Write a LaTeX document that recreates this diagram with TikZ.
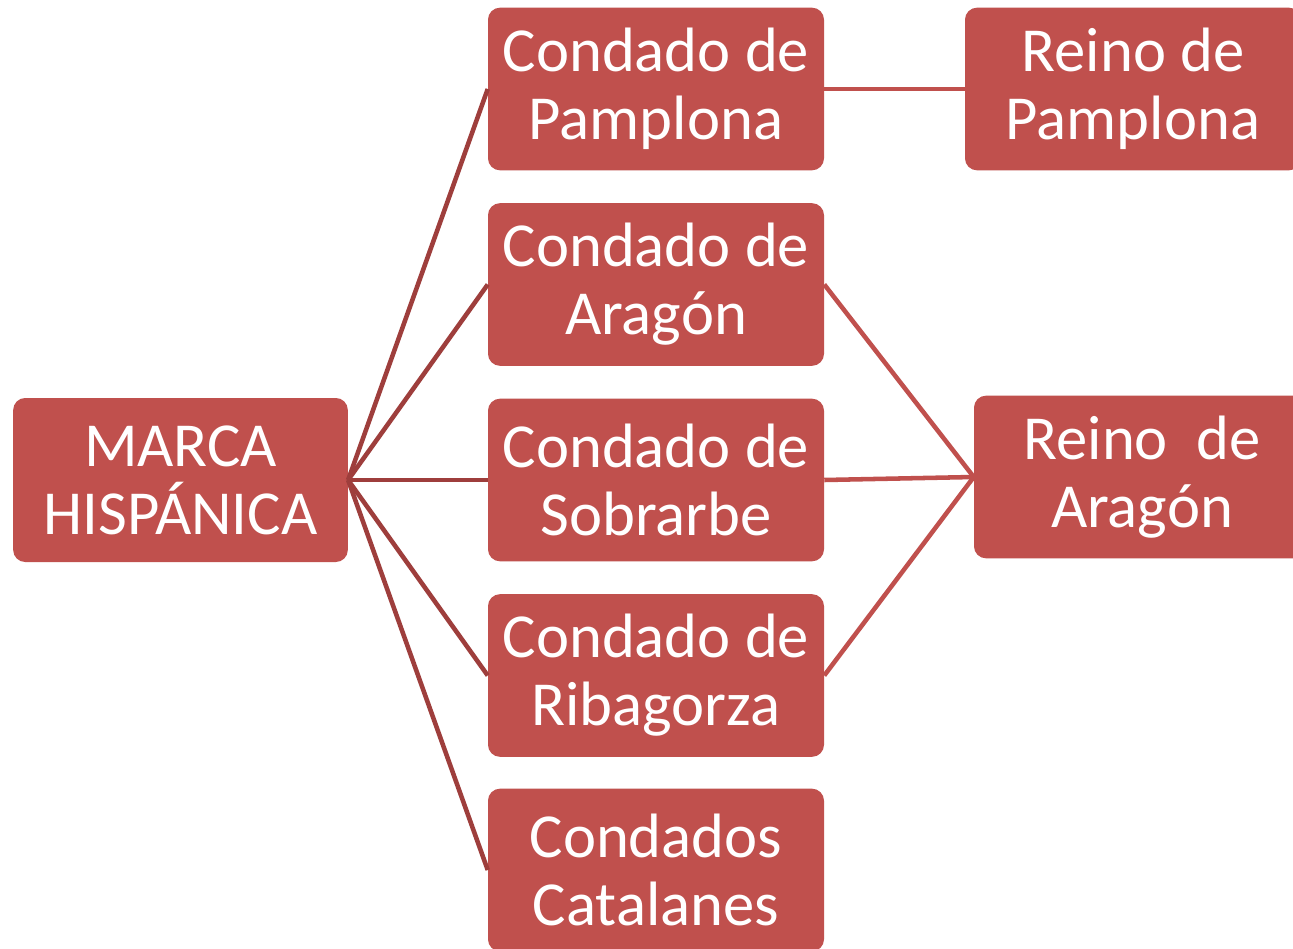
\documentclass[tikz,border=0pt]{standalone}
\usepackage{fontspec}
\setmainfont{Carlito}
\definecolor{boxred}{HTML}{C0504D}
\definecolor{linkred}{HTML}{9E3E3C}

\begin{document}
\begin{tikzpicture}[x=0.75pt,y=-0.75pt]
\tikzset{
  condado/.style={fill=boxred, rounded corners=9pt, text=white, align=center,
    minimum width=252pt, minimum height=122pt, inner sep=0pt,
    font=\fontsize{47}{51}\selectfont},
  enlace/.style={draw=linkred, line width=3.4pt},
  union/.style={draw=boxred, line width=3.4pt}
}
\clip (0,0) rectangle (1293,949);
\fill [white] (0,0) rectangle (1293,949);
% nodos
\node [condado, minimum width=251pt, minimum height=123pt] (marca) at (180.5,480) {MARCA\\HISPÁNICA};
\node [condado] (pamplona) at (656,89) {Condado de\\Pamplona};
\node [condado] (aragon) at (656,284.5) {Condado de\\Aragón};
\node [condado] (sobrarbe) at (656,480) {Condado de\\Sobrarbe};
\node [condado] (ribagorza) at (656,675.5) {Condado de\\Ribagorza};
\node [condado] (catalanes) at (656,870) {Condados\\Catalanes};
\node [condado] (rpamplona) at (1133,89) {Reino de\\Pamplona};
\node [condado] (raragon) at (1142,477) {Reino\ \ de\\Aragón};
% lineas
\draw [enlace] (marca.east) -- (pamplona.west);
\draw [enlace] (marca.east) -- (aragon.west);
\draw [enlace] (marca.east) -- (sobrarbe.west);
\draw [enlace] (marca.east) -- (ribagorza.west);
\draw [enlace] (marca.east) -- (catalanes.west);
\draw [union] (pamplona.east) -- (rpamplona.west);
\draw [union] (aragon.east) -- (raragon.west);
\draw [union] (sobrarbe.east) -- (raragon.west);
\draw [union] (ribagorza.east) -- (raragon.west);
\end{tikzpicture}
\end{document}
